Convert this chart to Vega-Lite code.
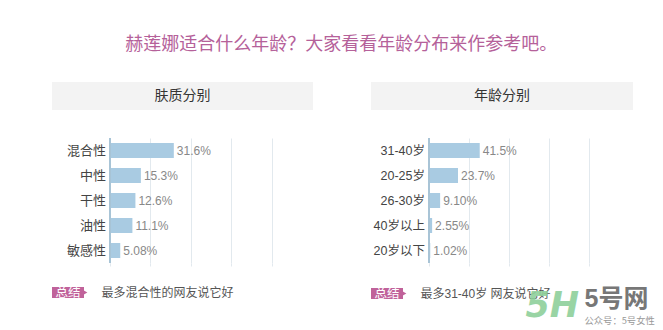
{
  "$schema": "https://vega.github.io/schema/vega-lite/v6.json",
  "background": "white",
  "autosize": {"type": "pad"},
  "padding": {"left": 52, "top": 36, "right": 0, "bottom": 0},
  "title": {"text": "赫莲娜适合什么年龄？大家看看年龄分布来作参考吧。", "font": "Noto Sans CJK SC", "fontSize": 18, "fontWeight": "normal", "color": "#b5619a", "anchor": "middle", "offset": 28, "dx": -12},
  "config": {"view": {"stroke": null}, "font": "Liberation Sans, Noto Sans CJK SC"},
  "datasets": {
    "skin": [
      {"type": "混合性", "share": 0.316},
      {"type": "中性", "share": 0.153},
      {"type": "干性", "share": 0.126},
      {"type": "油性", "share": 0.111},
      {"type": "敏感性", "share": 0.0508}
    ],
    "age": [
      {"group": "31-40岁", "share": 0.415},
      {"group": "20-25岁", "share": 0.237},
      {"group": "26-30岁", "share": 0.091},
      {"group": "40岁以上", "share": 0.0255},
      {"group": "20岁以下", "share": 0.0102}
    ]
  },
  "spacing": 58,
  "hconcat": [
    {
      "spacing": 27,
      "vconcat": [
        {
          "width": 261, "height": 28,
          "view": {"fill": "#f3f3f3", "stroke": null},
          "data": {"values": [{"h": "肤质分别"}]},
          "mark": {"type": "text", "font": "Noto Sans CJK SC", "fontSize": 14, "color": "#333333", "baseline": "middle"},
          "encoding": {"text": {"field": "h"}}
        },
        {
          "spacing": 19,
          "vconcat": [
            {
              "width": 261, "height": 125,
              "data": {"name": "skin"},
              "layer": [
                {"mark": {"type": "bar", "color": "#a9cbe2"},
                  "encoding": {
                    "y": {"field": "type", "type": "nominal", "sort": null, "scale": {"paddingInner": 0.4, "paddingOuter": 0.2}, "axis": null},
                    "x": {"field": "share", "type": "quantitative", "scale": {"domain": [-0.287, 1.005], "nice": false, "zero": false},
                      "axis": {"title": null, "labels": false, "domain": false, "values": [0, 0.2, 0.4, 0.6, 0.8], "grid": true, "gridColor": "#e2e9ee", "tickColor": "#e2e9ee", "tickSize": 3}},
                    "x2": {"datum": 0}}},
                {"mark": {"type": "text", "align": "left", "dx": 3, "fontSize": 12, "color": "#888888", "font": "Liberation Sans"},
                  "encoding": {
                    "y": {"field": "type", "type": "nominal", "sort": null},
                    "x": {"field": "share", "type": "quantitative"},
                    "text": {"field": "share", "type": "quantitative", "format": ".3p"}}},
                {"mark": {"type": "text", "align": "right", "dx": -4, "fontSize": 13, "color": "#444444", "font": "Noto Sans CJK SC"},
                  "encoding": {
                    "y": {"field": "type", "type": "nominal", "sort": null},
                    "x": {"datum": 0},
                    "text": {"field": "type"}}},
                {"mark": {"type": "rule", "color": "#a9c4d6", "strokeWidth": 1.5},
                  "encoding": {"x": {"datum": 0}}}
              ]
            },
            {
              "spacing": 13,
              "hconcat": [
                {
                  "width": 32, "height": 11,
                  "view": {"fill": "#c0629a", "stroke": null},
                  "data": {"values": [{"t": "总结"}]},
                  "layer": [
                    {"mark": {"type": "text", "color": "white", "fontSize": 12.5, "font": "Noto Sans CJK SC", "baseline": "middle"}, "encoding": {"text": {"field": "t"}}},
                    {"mark": {"type": "point", "shape": "triangle-right", "filled": true, "opacity": 1, "color": "#c0629a", "size": 30, "xOffset": 17}, "encoding": {}}
                  ]
                },
                {
                  "width": 1, "height": 11,
                  "data": {"values": [{"t": "最多混合性的网友说它好"}]},
                  "mark": {"type": "text", "align": "left", "baseline": "middle", "fontSize": 12, "color": "#555555", "font": "Noto Sans CJK SC"},
                  "encoding": {"text": {"field": "t"}}
                }
              ]
            }
          ]
        }
      ]
    },
    {
      "spacing": 27,
      "vconcat": [
        {
          "width": 262, "height": 28,
          "view": {"fill": "#f3f3f3", "stroke": null},
          "data": {"values": [{"h": "年龄分别"}]},
          "mark": {"type": "text", "font": "Noto Sans CJK SC", "fontSize": 14, "color": "#333333", "baseline": "middle"},
          "encoding": {"text": {"field": "h"}}
        },
        {
          "spacing": 19,
          "vconcat": [
            {
              "width": 262, "height": 125,
              "data": {"name": "age"},
              "layer": [
                {"mark": {"type": "bar", "color": "#a9cbe2"},
                  "encoding": {
                    "y": {"field": "group", "type": "nominal", "sort": null, "scale": {"paddingInner": 0.4, "paddingOuter": 0.2}, "axis": null},
                    "x": {"field": "share", "type": "quantitative", "scale": {"domain": [-0.4746, 1.669], "nice": false, "zero": false},
                      "axis": {"title": null, "labels": false, "domain": false, "values": [0, 0.328, 0.656, 0.984, 1.312], "grid": true, "gridColor": "#e2e9ee", "tickColor": "#e2e9ee", "tickSize": 3}},
                    "x2": {"datum": 0}}},
                {"mark": {"type": "text", "align": "left", "dx": 3, "fontSize": 12, "color": "#888888", "font": "Liberation Sans"},
                  "encoding": {
                    "y": {"field": "group", "type": "nominal", "sort": null},
                    "x": {"field": "share", "type": "quantitative"},
                    "text": {"field": "share", "type": "quantitative", "format": ".3p"}}},
                {"mark": {"type": "text", "align": "right", "dx": -4, "fontSize": 12.5, "color": "#444444", "font": "Liberation Sans, Noto Sans CJK SC"},
                  "encoding": {
                    "y": {"field": "group", "type": "nominal", "sort": null},
                    "x": {"datum": 0},
                    "text": {"field": "group"}}},
                {"mark": {"type": "rule", "color": "#a9c4d6", "strokeWidth": 1.5},
                  "encoding": {"x": {"datum": 0}}}
              ]
            },
            {
              "spacing": 13,
              "hconcat": [
                {
                  "width": 32, "height": 11,
                  "view": {"fill": "#c0629a", "stroke": null},
                  "data": {"values": [{"t": "总结"}]},
                  "layer": [
                    {"mark": {"type": "text", "color": "white", "fontSize": 12.5, "font": "Noto Sans CJK SC", "baseline": "middle"}, "encoding": {"text": {"field": "t"}}},
                    {"mark": {"type": "point", "shape": "triangle-right", "filled": true, "opacity": 1, "color": "#c0629a", "size": 30, "xOffset": 17}, "encoding": {}}
                  ]
                },
                {
                  "width": 1, "height": 11,
                  "data": {"values": [{"t": "最多31-40岁 网友说它好", "logo": "5号网", "account": "公众号：5号女性", "mark": "5H"}]},
                  "layer": [
                    {"mark": {"type": "text", "align": "left", "baseline": "middle", "fontSize": 12, "color": "#555555", "font": "Liberation Sans, Noto Sans CJK SC"},
                      "encoding": {"text": {"field": "t"}}},
                    {"mark": {"type": "text", "align": "left", "baseline": "middle", "fontSize": 35, "fontWeight": "bold", "fontStyle": "italic", "color": "#8fd09b", "opacity": 0.9, "font": "DejaVu Sans", "dx": 105, "dy": 12},
                      "encoding": {"text": {"field": "mark"}}},
                    {"mark": {"type": "text", "align": "left", "baseline": "middle", "fontSize": 25, "fontWeight": "bold", "color": "#777777", "font": "Liberation Sans, Noto Sans CJK SC", "dx": 164, "dy": 5},
                      "encoding": {"text": {"field": "logo"}}},
                    {"mark": {"type": "text", "align": "left", "baseline": "middle", "fontSize": 9.3, "color": "#999999", "font": "Noto Sans CJK SC", "dx": 164, "dy": 27.5},
                      "encoding": {"text": {"field": "account"}}}
                  ]
                }
              ]
            }
          ]
        }
      ]
    }
  ]
}
